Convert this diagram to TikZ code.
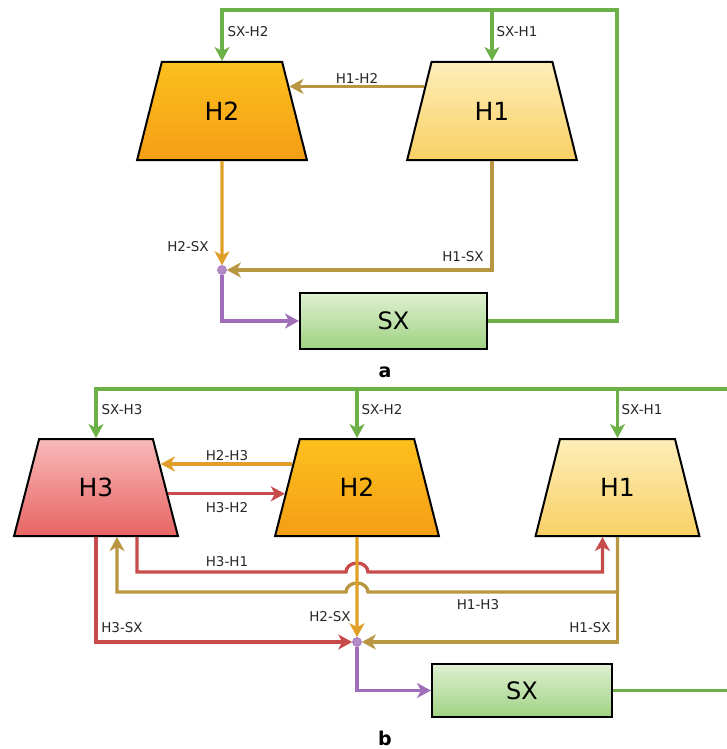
\documentclass[tikz,border=0pt]{standalone}
\usepackage{fontspec}
\setmainfont{DejaVu Sans}
\usetikzlibrary{shapes.geometric,arrows.meta}
\definecolor{cgreen}{RGB}{110,176,72}
\definecolor{colive}{RGB}{185,150,65}
\definecolor{corange}{RGB}{224,160,40}
\definecolor{cred}{RGB}{200,75,75}
\definecolor{cpurple}{RGB}{160,110,185}
\definecolor{hTwoTop}{RGB}{252,192,30}
\definecolor{hTwoBot}{RGB}{244,158,20}
\definecolor{hOneTop}{RGB}{253,238,185}
\definecolor{hOneBot}{RGB}{249,208,100}
\definecolor{hThreeTop}{RGB}{248,185,185}
\definecolor{hThreeBot}{RGB}{232,100,100}
\definecolor{sxTop}{RGB}{222,240,210}
\definecolor{sxBot}{RGB}{160,210,130}
\tikzset{
  trap/.style={trapezium, trapezium stretches=true, draw=black, line width=2pt,
    inner sep=0pt, font=\fontsize{25}{28}\selectfont},
  trapa/.style={trap, trapezium angle=69, minimum width=170pt, minimum height=98pt},
  trapb/.style={trap, trapezium angle=68, minimum width=164pt, minimum height=97pt},
  sxbox/.style={rectangle, draw=black, line width=2pt, top color=sxTop, bottom color=sxBot,
    font=\fontsize{24}{27}\selectfont, inner sep=0pt},
  junc/.style={circle, fill=cpurple!80, draw=cpurple, line width=0.6pt, minimum size=9pt, inner sep=0pt},
  lab/.style={font=\fontsize{13.5}{15}\selectfont, text=black!85},
  capt/.style={font=\bfseries\fontsize{19}{22}\selectfont},
  arr/.style={-{Stealth[length=14pt,width=15pt,inset=4pt]}},
  conn/.style={line width=3.3pt, line join=miter},
  gline/.style={conn, draw=cgreen},
  oline/.style={conn, draw=colive},
  orline/.style={conn, draw=corange},
  rline/.style={conn, draw=cred},
  pline/.style={conn, draw=cpurple},
}
\begin{document}
\begin{tikzpicture}[x=1pt,y=-1pt]
\useasboundingbox (0,0) rectangle (727,749);
% ---------------- part a ----------------
\node[trapa, top color=hTwoTop, bottom color=hTwoBot] (aH2) at (222,111) {H2};
\node[trapa, top color=hOneTop, bottom color=hOneBot] (aH1) at (492,111) {H1};
\node[sxbox, minimum width=187pt, minimum height=56pt] (aSX) at (393.5,321) {SX};
\node[junc] (aJ) at (222,270) {};
\coordinate (aC) at (617,10);

\draw[gline,arr] (aSX.east) -| (aC) -| (aH2.north);
\draw[gline,arr] (aH1.north |- aC) -- (aH1.north);
\draw[oline,arr] (aH1.160.5) -- (aH1.160.5 -| aH2.20.4);
\draw[orline,arr] (aH2.south) -- (aJ);
\draw[oline,arr] (aH1.south) |- (aJ);
\draw[pline,arr] (aJ) |- (aSX.west);

\node[lab] at (248,32) {SX-H2};
\node[lab] at (517,32) {SX-H1};
\node[lab] at (357,78) {H1-H2};
\node[lab] at (188,247) {H2-SX};
\node[lab] at (463,257) {H1-SX};
\node[capt] at (385,372) {a};

% ---------------- part b ----------------
\node[trapb, top color=hThreeTop, bottom color=hThreeBot] (bH3) at (96,487.5) {H3};
\node[trapb, top color=hTwoTop, bottom color=hTwoBot] (bH2) at (357,487.5) {H2};
\node[trapb, top color=hOneTop, bottom color=hOneBot] (bH1) at (617.5,487.5) {H1};
\node[sxbox, minimum width=180pt, minimum height=53pt] (bSX) at (522,690.5) {SX};
\node[junc] (bJ) at (357,642) {};
\coordinate (bIn) at (727,389);
\coordinate (bOut) at (727,690.5);

\draw[gline] (bSX.east) -- (bOut);
\draw[gline,arr] (bIn) -| (bH3.north);
\draw[gline,arr] (bH2.north |- bIn) -- (bH2.north);
\draw[gline,arr] (bH1.north |- bIn) -- (bH1.north);

\draw[orline,arr] (bH2.160.6) -- (bH2.160.6 -| bH3.19.9);
\draw[rline,arr] (bH3.-5.7) -- (bH3.-5.7 -| bH2.185.7);

\draw[rline,arr] ([xshift=41pt]bH3.south) |- (346,572)
  arc[start angle=180, end angle=360, x radius=11, y radius=9]
  -| ([xshift=-15pt]bH1.south);
\draw[oline,arr] (bH1.south) |- (368,592)
  arc[start angle=0, end angle=-180, x radius=11, y radius=9]
  -| ([xshift=21pt]bH3.south);
\draw[oline,arr] (bH1.south) |- (bJ);
\draw[orline,arr] (bH2.south) -- (bJ);
\draw[rline,arr] (bH3.south) |- (bJ);
\draw[pline,arr] (bJ) |- (bSX.west);

\node[lab] at (122,410) {SX-H3};
\node[lab] at (382,410) {SX-H2};
\node[lab] at (642,410) {SX-H1};
\node[lab] at (227,456) {H2-H3};
\node[lab] at (227,508) {H3-H2};
\node[lab] at (227,562) {H3-H1};
\node[lab] at (478,605) {H1-H3};
\node[lab] at (122,628) {H3-SX};
\node[lab] at (330,617) {H2-SX};
\node[lab] at (590,628) {H1-SX};
\node[capt] at (385,738) {b};
\end{tikzpicture}
\end{document}
